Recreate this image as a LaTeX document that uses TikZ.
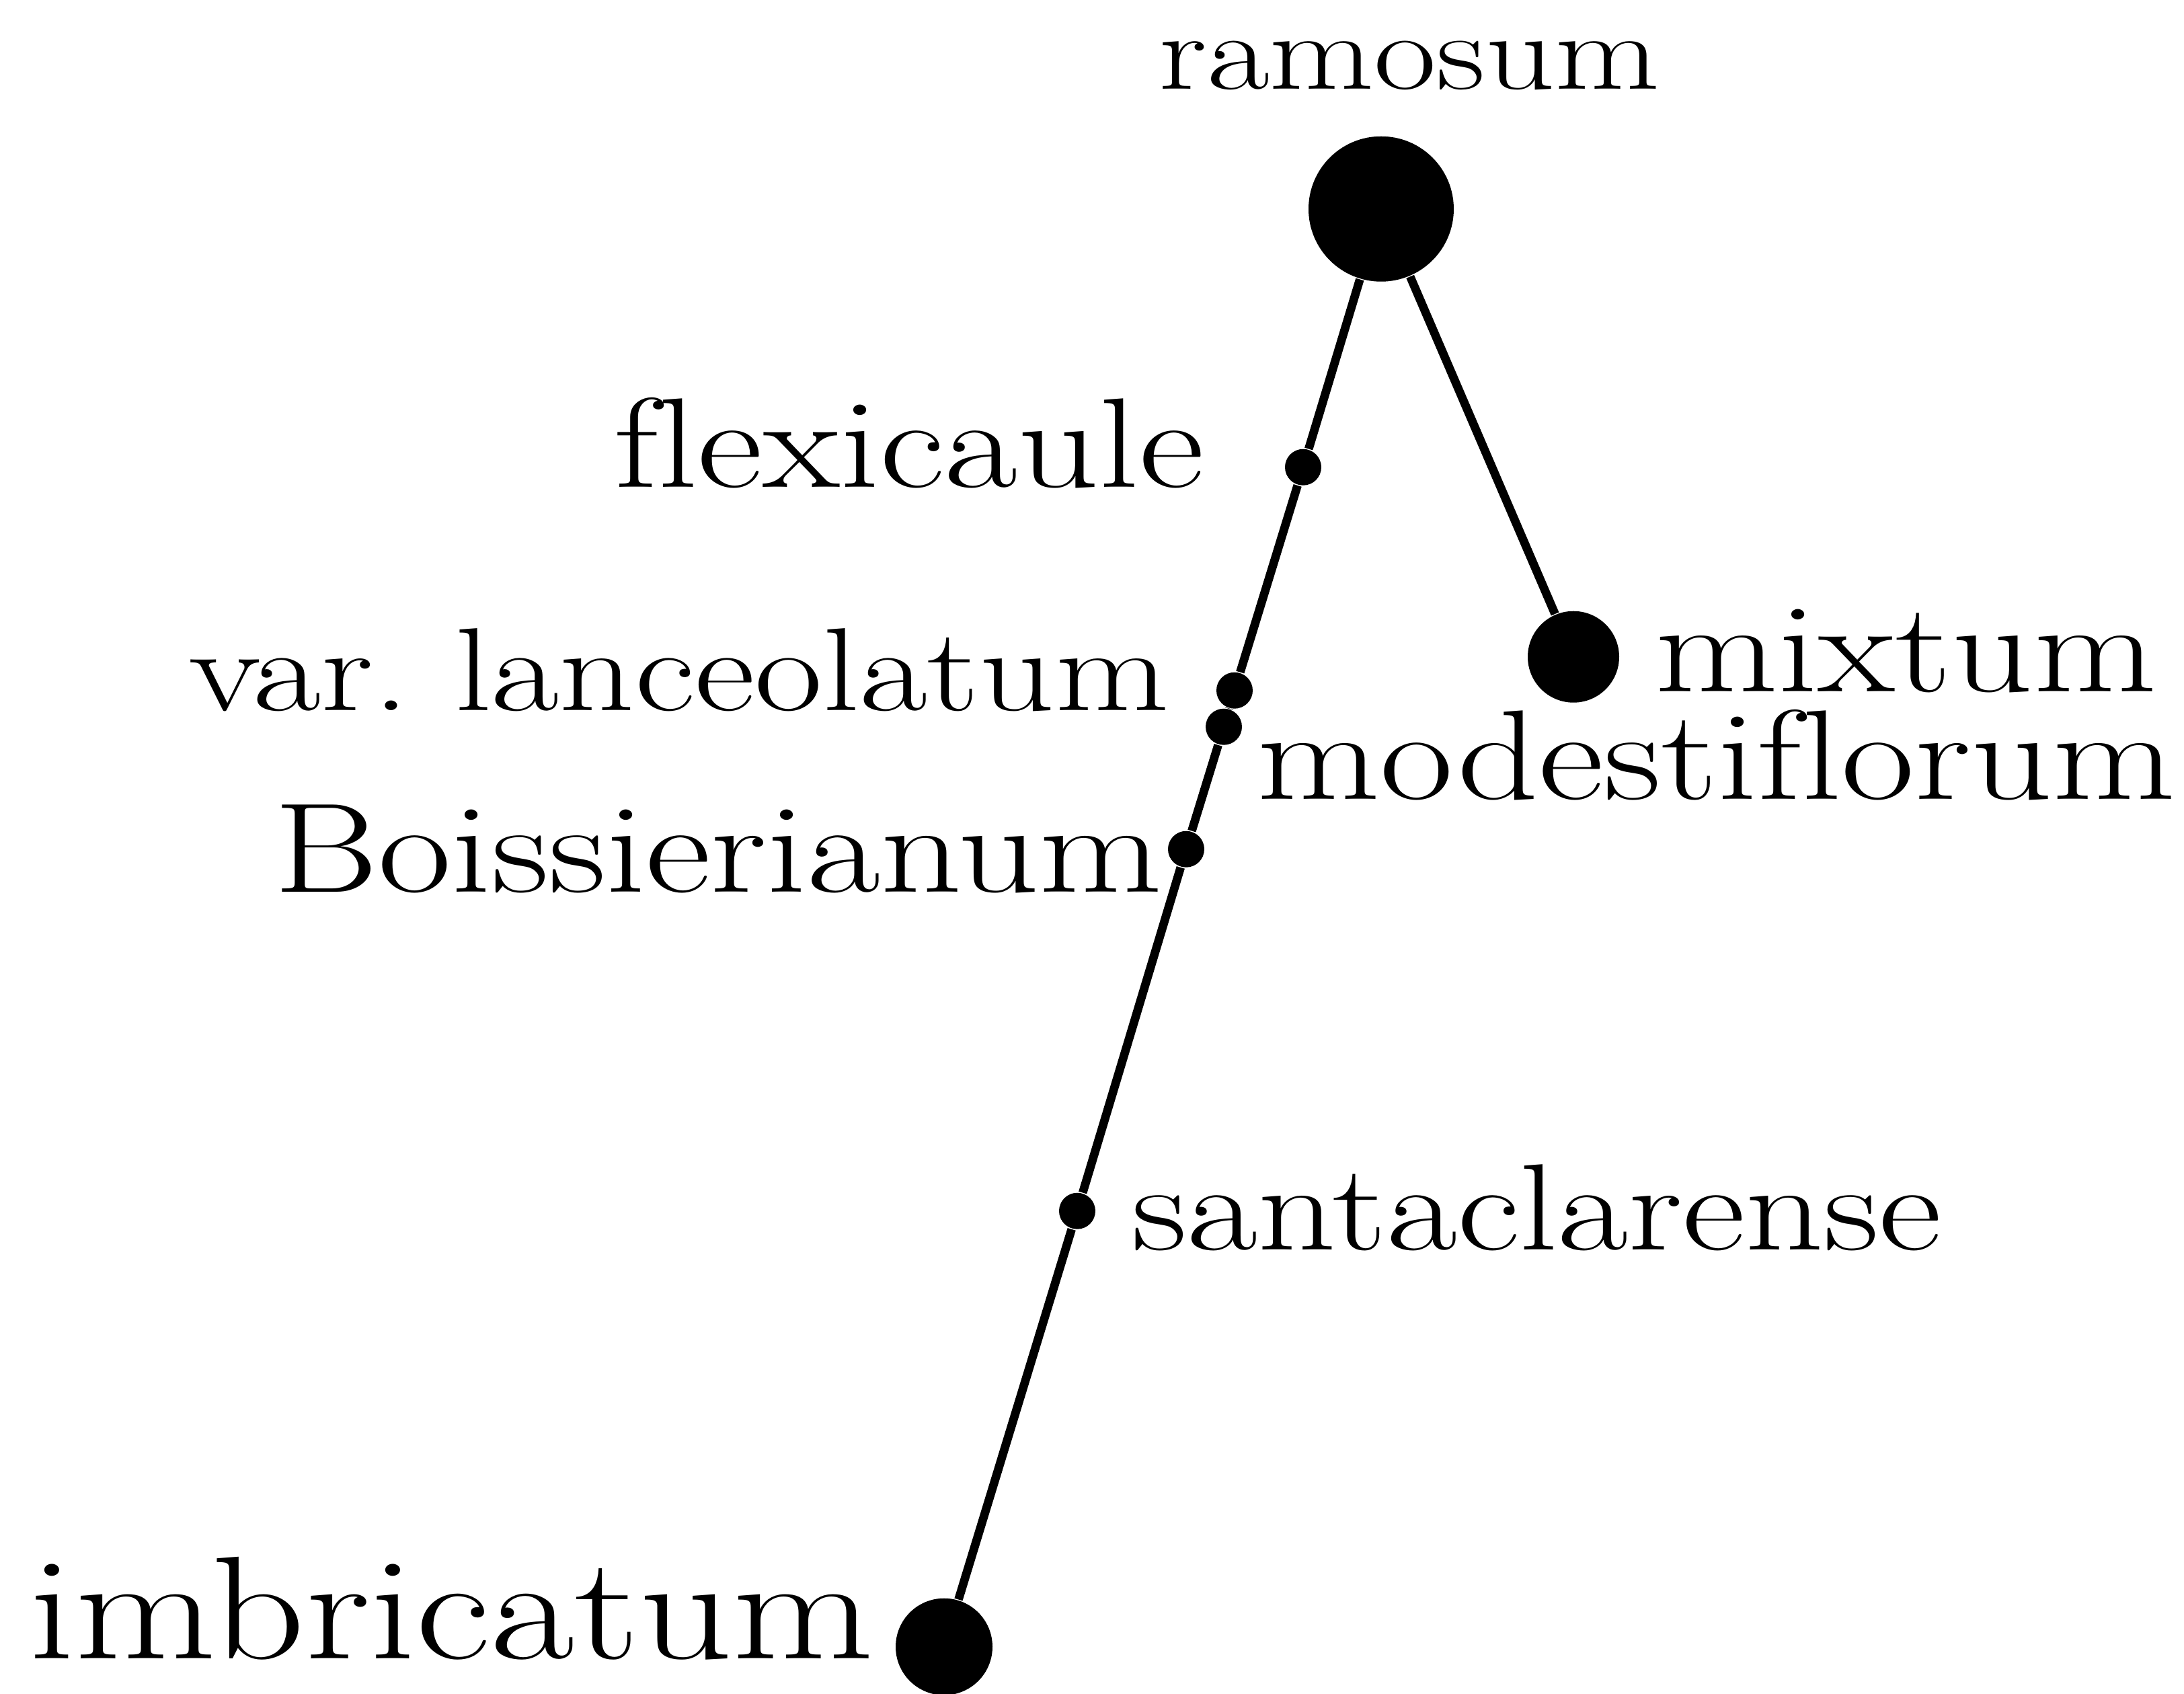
\documentclass[tikz,border=0pt]{standalone}
\usepackage{fontspec}
\setmainfont{Latin Modern Roman}[FakeStretch=1.25,Ligatures=NoCommon]
\usepackage{tikz}
\tikzset{
  nd_big/.style={
    circle, fill=black, minimum size=1.08cm, inner sep=0pt},
  nd_mid/.style={
    circle, fill=black, minimum size=0.68cm, inner sep=0pt},
  nd_end/.style={
    circle, fill=black, minimum size=0.72cm, inner sep=0pt},
  nd_sml/.style={
    circle, fill=black, minimum size=0.27cm, inner sep=0pt},
  lbl/.style={
    inner sep=0pt, font=\fontsize{27}{32}\selectfont},
  stem/.style={line width=1.8pt},
}

\begin{document}
\begin{tikzpicture}[x=1cm,y=1cm]

\useasboundingbox (0,0) rectangle (16.24,12.594);

%% ── dots ────────────────────────────────────────────────────
\node[nd_big] at (10.27,11.04) (R){};
\node[nd_sml] at (9.69,9.12)   (F){};
\node[nd_sml] at (9.18,7.46)   (La){};
\node[nd_sml] at (9.10,7.19)   (Mo){};
\node[nd_sml] at (8.82,6.28)   (B){};
\node[nd_sml] at (8.01,3.59)   (S){};
\node[nd_end] at (7.02,0.35)   (I){};
\node[nd_mid] at (11.70,7.71)  (Mx){};

%% ── labels ──────────────────────────────────────────────────
\node[lbl,anchor=base,font=\fontsize{23}{28}\selectfont] at (10.48,11.93) (tR){ramosum};
\node[lbl,anchor=base east] at (8.96,8.97)  (tF){flexicaule};
\node[lbl,anchor=base east,font=\fontsize{25}{30}\selectfont] at (8.70,7.31) (tLa){var.\ lanceolatum};
\node[lbl,anchor=base west] at (12.30,7.45) (tMx){mixtum};
\node[lbl,anchor=base west] at (9.34,6.65)  (tMo){modestiflorum};
\node[lbl,anchor=base east] at (8.65,5.96)  (tB){Boissierianum};
\node[lbl,anchor=base west,font=\fontsize{26}{31}\selectfont] at (8.41,3.30) (tS){santaclarense};
\node[lbl,anchor=base west,font=\fontsize{31}{37}\selectfont] at (0.21,0.26) (tI){imbricatum};

%% ── stems ───────────────────────────────────────────────────
\draw[stem] (R)--(F)--(La)--(Mo)--(B)--(S)--(I);
\draw[stem] (R)--(Mx);

\end{tikzpicture}
\end{document}
